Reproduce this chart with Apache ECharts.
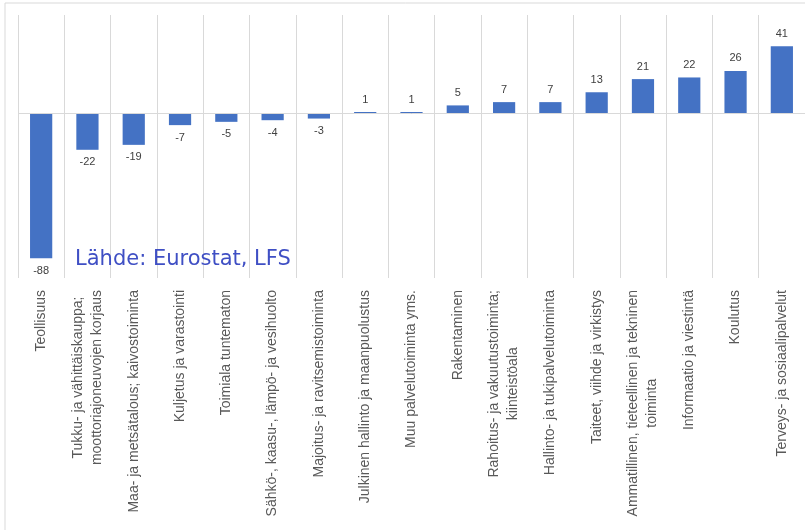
<!DOCTYPE html>
<html>
<head>
<meta charset="utf-8">
<script src="https://cdn.jsdelivr.net/npm/echarts@6/dist/echarts.min.js"></script>
<style>
  html, body { margin: 0; padding: 0; background: #fff; }
  #chart { width: 805px; height: 530px; }
</style>
</head>
<body>
<div id="chart"></div>
<script>
const categories = [
  'Teollisuus',
  'Tukku- ja vähittäiskauppa;\nmoottoriajoneuvojen korjaus',
  'Maa- ja metsätalous; kaivostoiminta',
  'Kuljetus ja varastointi',
  'Toimiala tuntematon',
  'Sähkö-, kaasu-, lämpö- ja vesihuolto',
  'Majoitus- ja ravitsemistoiminta',
  'Julkinen hallinto ja maanpuolustus',
  'Muu palvelutoiminta yms.',
  'Rakentaminen',
  'Rahoitus- ja vakuutustoiminta;\nkiinteistöala',
  'Hallinto- ja tukipalvelutoiminta',
  'Taiteet, viihde ja virkistys',
  'Ammatillinen, tieteellinen ja tekninen\ntoiminta',
  'Informaatio ja viestintä',
  'Koulutus',
  'Terveys- ja sosiaalipalvelut'
];
const values = [-88, -22, -19, -7, -5, -4, -3, 1, 1, 5, 7, 7, 13, 21, 22, 26, 41];
const sourceText = 'Lähde: Eurostat, LFS';

const chart = echarts.init(document.getElementById('chart'));

// negative bars get their label under the bar
const barData = values.map(v => ({
  value: v,
  label: { position: v < 0 ? 'bottom' : 'top' }
}));

const option = {
  animation: false,
  grid: { left: 18, right: 0, top: 15, bottom: 252 },
  graphic: [
    {
      type: 'rect',
      shape: { x: 5, y: 3, width: 820, height: 540 },
      style: { fill: 'none', stroke: '#d9d9d9', lineWidth: 1 },
      silent: true
    },
    {
      type: 'text',
      left: 75,
      top: 249,
      style: {
        text: sourceText,
        fill: '#3f4fc4',
        font: '21px "DejaVu Sans", sans-serif'
      },
      z: 10
    }
  ],
  xAxis: {
    type: 'category',
    data: categories,
    axisLine: { show: false, onZero: false },
    axisTick: { show: false },
    splitLine: { show: true, interval: 0, lineStyle: { color: '#d9d9d9', width: 1 } },
    axisLabel: {
      interval: 0,
      rotate: 90,
      margin: 12,
      color: '#595959',
      fontSize: 14,
      fontFamily: '"Liberation Sans", Arial, sans-serif',
      formatter: function (val) {
        return val.split('\n').map(s => '{c|' + s + '}').join('\n');
      },
      rich: {
        c: {
          align: 'center',
          color: '#595959',
          fontSize: 14,
          lineHeight: 19,
          fontFamily: '"Liberation Sans", Arial, sans-serif'
        }
      }
    }
  },
  yAxis: {
    type: 'value',
    min: -100,
    max: 60,
    axisLine: { show: false },
    axisTick: { show: false },
    axisLabel: { show: false },
    splitLine: { show: false }
  },
  series: [
    {
      type: 'bar',
      data: barData,
      barWidth: '48%',
      itemStyle: { color: '#4472c4' },
      label: {
        show: true,
        distance: 7,
        color: '#404040',
        fontSize: 11,
        fontFamily: '"Liberation Sans", Arial, sans-serif'
      },
      markLine: {
        silent: true,
        symbol: ['none', 'none'],
        label: { show: false },
        lineStyle: { color: '#d9d9d9', type: 'solid', width: 1 },
        data: [{ yAxis: 0 }]
      }
    }
  ]
};

chart.setOption(option);
window.onresize = function () {
  chart.resize();
};
</script>
</body>
</html>
